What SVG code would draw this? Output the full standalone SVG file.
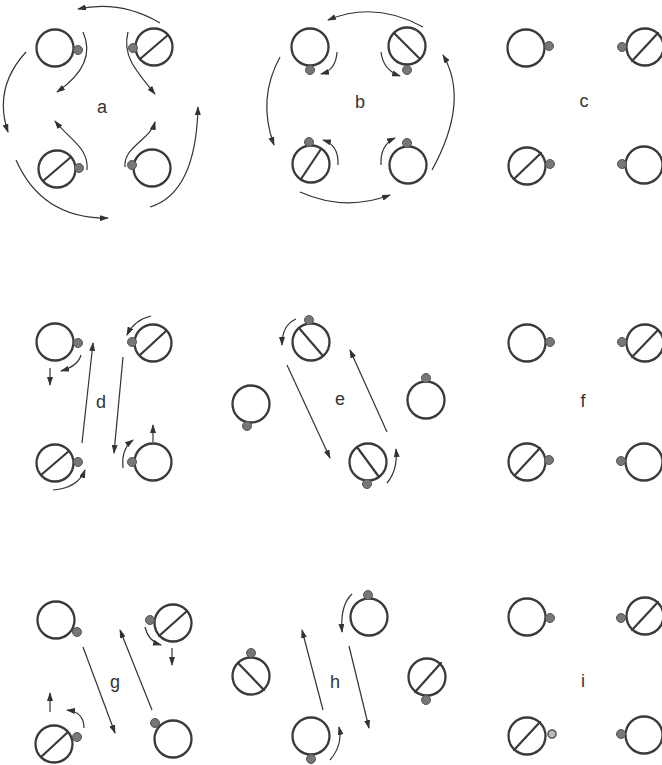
<svg xmlns="http://www.w3.org/2000/svg" width="662" height="765" viewBox="0 0 662 765">
<defs>
<style>
.ring{fill:none;stroke:#3a3a3a;stroke-width:2.3}
.chord{stroke:#3a3a3a;stroke-width:2.2;stroke-linecap:round}
.dot{fill:#777;stroke:#555;stroke-width:1}
.hollow{fill:#bbb;stroke:#555;stroke-width:1.6}
.arr{fill:none;stroke:#333;stroke-width:1.2;marker-end:url(#ah)}
.lbl{font-family:"Liberation Sans",Arial,sans-serif;font-size:18px;fill:#333;text-anchor:middle}
</style>
<marker id="ah" markerUnits="userSpaceOnUse" markerWidth="9" markerHeight="6" refX="8" refY="3" orient="auto">
<path d="M0,0 L9,3 L0,6 z" fill="#333"/>
</marker>
</defs>
<rect width="662" height="765" fill="#fff"/>

<!-- panel a -->
<g id="a1"><circle class="ring" cx="55" cy="48" r="18.5"/><circle class="dot" cx="78" cy="50" r="4.5"/></g>
<g id="a2"><circle class="ring" cx="154" cy="47" r="18.5"/><line class="chord" x1="140" y1="59" x2="168" y2="35"/><circle class="dot" cx="133" cy="48" r="4.5"/></g>
<g id="a3"><circle class="ring" cx="57" cy="169" r="18.5"/><line class="chord" x1="43" y1="181" x2="71" y2="157"/><circle class="dot" cx="79" cy="168" r="4.5"/></g>
<g id="a4"><circle class="ring" cx="152" cy="168" r="18.5"/><circle class="dot" cx="132" cy="165" r="4.5"/></g>
<text class="lbl" x="102" y="113">a</text>

<!-- panel b -->
<g id="b1"><circle class="ring" cx="310" cy="47" r="18.5"/><circle class="dot" cx="310" cy="70" r="4.5"/></g>
<g id="b2"><circle class="ring" cx="407" cy="46" r="18.5"/><line class="chord" x1="394" y1="33" x2="420" y2="59"/><circle class="dot" cx="407" cy="70" r="4.5"/></g>
<g id="b3"><circle class="ring" cx="311" cy="164" r="18.5"/><line class="chord" x1="301" y1="179" x2="321" y2="149"/><circle class="dot" cx="309" cy="142" r="4.5"/></g>
<g id="b4"><circle class="ring" cx="408" cy="165" r="18.5"/><circle class="dot" cx="407" cy="143" r="4.5"/></g>
<text class="lbl" x="360" y="108">b</text>

<!-- panel c -->
<g id="c1"><circle class="ring" cx="526" cy="48" r="18.5"/><circle class="dot" cx="549" cy="46" r="4.5"/></g>
<g id="c2"><circle class="ring" cx="645" cy="47" r="18.5"/><line class="chord" x1="632" y1="61" x2="658" y2="33"/><circle class="dot" cx="622" cy="47" r="4.5"/></g>
<g id="c3"><circle class="ring" cx="527" cy="166" r="18.5"/><line class="chord" x1="514" y1="179" x2="541" y2="153"/><circle class="dot" cx="550" cy="164" r="4.5"/></g>
<g id="c4"><circle class="ring" cx="644" cy="165" r="18.5"/><circle class="dot" cx="622" cy="164" r="4.5"/></g>
<text class="lbl" x="584" y="107">c</text>

<!-- panel d -->
<g id="d1"><circle class="ring" cx="55" cy="342" r="18.5"/><circle class="dot" cx="78" cy="343" r="4.5"/></g>
<g id="d2"><circle class="ring" cx="153" cy="343" r="18.5"/><line class="chord" x1="140" y1="355" x2="166" y2="331"/><circle class="dot" cx="132" cy="342" r="4.5"/></g>
<g id="d3"><circle class="ring" cx="55" cy="463" r="18.5"/><line class="chord" x1="41" y1="475" x2="69" y2="451"/><circle class="dot" cx="78" cy="462" r="4.5"/></g>
<g id="d4"><circle class="ring" cx="153" cy="462" r="18.5"/><circle class="dot" cx="132" cy="462" r="4.5"/></g>
<text class="lbl" x="101" y="408">d</text>

<!-- panel e -->
<g id="e1"><circle class="ring" cx="311" cy="342" r="18.5"/><line class="chord" x1="299" y1="328" x2="323" y2="356"/><circle class="dot" cx="309" cy="320" r="4.5"/></g>
<g id="e2"><circle class="ring" cx="251" cy="404" r="18.5"/><circle class="dot" cx="247" cy="426" r="4.5"/></g>
<g id="e3"><circle class="ring" cx="426" cy="400" r="18.5"/><circle class="dot" cx="426" cy="378" r="4.5"/></g>
<g id="e4"><circle class="ring" cx="368" cy="462" r="18.5"/><line class="chord" x1="357" y1="447" x2="379" y2="477"/><circle class="dot" cx="367" cy="484" r="4.5"/></g>
<text class="lbl" x="340" y="405">e</text>

<!-- panel f -->
<g id="f1"><circle class="ring" cx="527" cy="343" r="18.5"/><circle class="dot" cx="550" cy="342" r="4.5"/></g>
<g id="f2"><circle class="ring" cx="645" cy="343" r="18.5"/><line class="chord" x1="632" y1="357" x2="658" y2="330"/><circle class="dot" cx="622" cy="342" r="4.5"/></g>
<g id="f3"><circle class="ring" cx="527" cy="462" r="18.5"/><line class="chord" x1="515" y1="475" x2="540" y2="448"/><circle class="dot" cx="549" cy="460" r="4.5"/></g>
<g id="f4"><circle class="ring" cx="644" cy="462" r="18.5"/><circle class="dot" cx="621" cy="461" r="4.5"/></g>
<text class="lbl" x="583" y="407">f</text>

<!-- panel g -->
<g id="g1"><circle class="ring" cx="56" cy="620" r="18.5"/><circle class="dot" cx="77" cy="632" r="4.5"/></g>
<g id="g2"><circle class="ring" cx="173" cy="623" r="18.5"/><line class="chord" x1="159" y1="636" x2="187" y2="611"/><circle class="dot" cx="150" cy="620" r="4.5"/></g>
<g id="g3"><circle class="ring" cx="54" cy="744" r="18.5"/><line class="chord" x1="41" y1="757" x2="68" y2="732"/><circle class="dot" cx="77" cy="737" r="4.5"/></g>
<g id="g4"><circle class="ring" cx="173" cy="739" r="18.5"/><circle class="dot" cx="155" cy="723" r="4.5"/></g>
<text class="lbl" x="115" y="688">g</text>

<!-- panel h -->
<g id="h1"><circle class="ring" cx="369" cy="617" r="18.5"/><circle class="dot" cx="368" cy="595" r="4.5"/></g>
<g id="h2"><circle class="ring" cx="251" cy="676" r="18.5"/><line class="chord" x1="238" y1="663" x2="264" y2="690"/><circle class="dot" cx="251" cy="653" r="4.5"/></g>
<g id="h3"><circle class="ring" cx="427" cy="677" r="18.5"/><line class="chord" x1="415" y1="692" x2="441" y2="663"/><circle class="dot" cx="426" cy="700" r="4.5"/></g>
<g id="h4"><circle class="ring" cx="311" cy="736" r="18.5"/><circle class="dot" cx="311" cy="759" r="4.5"/></g>
<text class="lbl" x="335" y="688">h</text>

<!-- panel i -->
<g id="i1"><circle class="ring" cx="527" cy="617" r="18.5"/><circle class="dot" cx="550" cy="618" r="4.5"/></g>
<g id="i2"><circle class="ring" cx="645" cy="616" r="18.5"/><line class="chord" x1="632" y1="630" x2="658" y2="602"/><circle class="dot" cx="621" cy="618" r="4.5"/></g>
<g id="i3"><circle class="ring" cx="527" cy="736" r="18.5"/><line class="chord" x1="514" y1="750" x2="540" y2="722"/><circle class="hollow" cx="552" cy="734" r="4"/></g>
<g id="i4"><circle class="ring" cx="644" cy="735" r="18.5"/><circle class="dot" cx="621" cy="734" r="4.5"/></g>
<text class="lbl" x="583" y="687">i</text>

<g id="connectors">
<!-- a -->
<path class="arr" d="M160,23 Q121,0 78,9"/>
<path class="arr" d="M26,52 Q-7,88 8,132"/>
<path class="arr" d="M16,160 Q42,219 108,218"/>
<path class="arr" d="M150,207 Q196,193 198,107"/>
<path class="arr" d="M83,32 C92,52 86,72 57,92"/>
<path class="arr" d="M128,32 C122,55 135,70 155,94"/>
<path class="arr" d="M87,170 C89,148 70,140 55,121"/>
<path class="arr" d="M125,167 C123,147 150,140 155,122"/>
<!-- b -->
<path class="arr" d="M423,27 Q375,0.5 328,20"/>
<path class="arr" d="M280,57 Q257,99 274,145"/>
<path class="arr" d="M300,192 Q345,212 390,195"/>
<path class="arr" d="M432,170 Q470,101 443,55"/>
<path class="arr" d="M337,52 Q336,70 321,74"/>
<path class="arr" d="M381,52 Q383,70 400,76"/>
<path class="arr" d="M338,165 Q339,145 323,140"/>
<path class="arr" d="M381,165 Q380,145 395,138"/>
<!-- d -->
<path class="arr" d="M82,443 L93,343"/>
<path class="arr" d="M123,357 L114,453"/>
<path class="arr" d="M81,355 Q78,366 61,371"/>
<path class="arr" d="M50,368 L50,385"/>
<path class="arr" d="M151,316 Q134,320 127,335"/>
<path class="arr" d="M153,442 L153,425"/>
<path class="arr" d="M123,468 Q121,449 133,440"/>
<path class="arr" d="M53,490 Q78,488 85,470"/>
<!-- e -->
<path class="arr" d="M287,365 L330,458"/>
<path class="arr" d="M387,432 L350,350"/>
<path class="arr" d="M296,319 Q282,325 282,345"/>
<path class="arr" d="M387,483 Q398,470 396,449"/>
<!-- g -->
<path class="arr" d="M83,647 L115,733"/>
<path class="arr" d="M152,710 L120,630"/>
<path class="arr" d="M145,627 Q148,641 161,645"/>
<path class="arr" d="M172,648 L172,665"/>
<path class="arr" d="M50,712 L50,693"/>
<path class="arr" d="M84,728 Q84,712 67,710"/>
<!-- h -->
<path class="arr" d="M323,710 L302,630"/>
<path class="arr" d="M349,646 L369,728"/>
<path class="arr" d="M352,594 Q340,605 342,632"/>
<path class="arr" d="M330,760 Q343,745 339,727"/>
</g>
</svg>
